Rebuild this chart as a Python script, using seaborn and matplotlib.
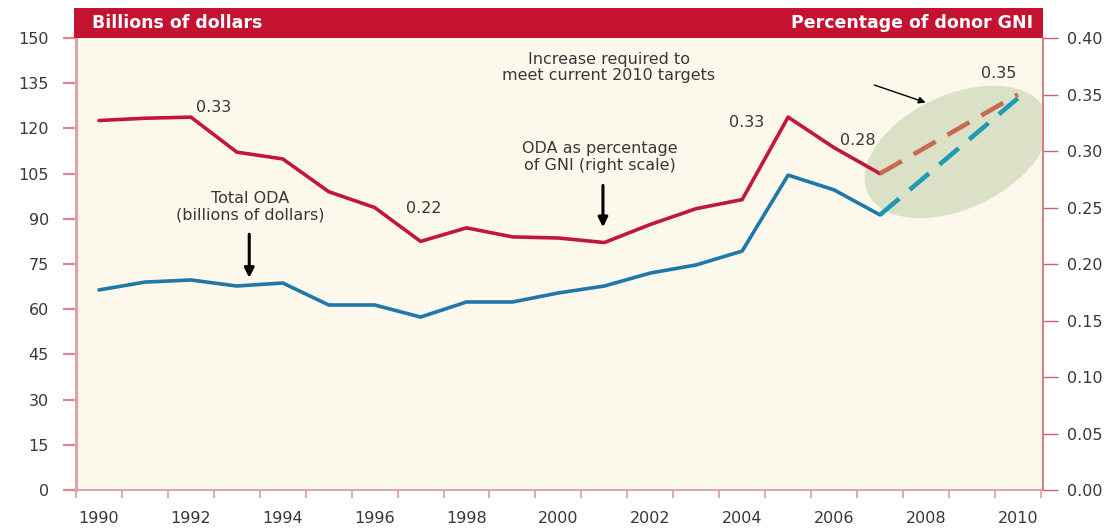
import numpy as np
import matplotlib
matplotlib.use("Agg")
import matplotlib.pyplot as plt
import seaborn as sns
from matplotlib.patches import Ellipse, Rectangle
from matplotlib.transforms import ScaledTranslation
from matplotlib.ticker import FixedLocator, MultipleLocator, FormatStrFormatter, NullFormatter

# ---- data -------------------------------------------------------------
years = [1990, 1991, 1992, 1993, 1994, 1995, 1996, 1997, 1998,
         1999, 2000, 2001, 2002, 2003, 2004, 2005, 2006, 2007]
oda_billions = [66.4, 69.0, 69.7, 67.7, 68.7, 61.4, 61.4, 57.4, 62.4,
                62.4, 65.4, 67.7, 72.0, 74.7, 79.3, 104.5, 99.6, 91.3]
oda_pct_gni = [0.327, 0.329, 0.33, 0.299, 0.293, 0.264, 0.250, 0.22, 0.232,
               0.224, 0.223, 0.219, 0.235, 0.249, 0.257, 0.33, 0.303, 0.28]

target_years = [2007, 2010]
target_billions = [91.3, 130.0]
target_pct = [0.28, 0.35]

# values printed next to the percentage line
pct_label_years = [1992, 1997, 2005, 2007, 2010]
pct_label_values = [0.33, 0.22, 0.33, 0.28, 0.35]

left_ticks = list(range(0, 151, 15))
year_ticks = list(range(1990, 2011, 2))

# ---- style ------------------------------------------------------------
sns.set_theme(style="white")
plt.rcParams["font.family"] = ["DejaVu Sans"]

RED = "#c0173a"
BLUE = "#1f77aa"
RED_PROJ = "#c96a50"
BLUE_PROJ = "#1e9ab5"
BAND = "#c41230"
CREAM = "#fdf8ec"
PINK = "#e0a2aa"
TXT = "#383838"
FS = 11.5

fig = plt.figure(figsize=(11.2, 5.31), dpi=100)
ax = fig.add_axes([0.0679, 0.0772, 0.8634, 0.8512])
ax.set_facecolor(CREAM)
ax2 = ax.twinx()

# ---- lines ------------------------------------------------------------
sns.lineplot(x=years, y=oda_billions, ax=ax, color=BLUE, linewidth=2.6, zorder=3)
sns.lineplot(x=target_years, y=target_billions, ax=ax, color=BLUE_PROJ,
             linewidth=3.3, linestyle=(0, (5.5, 3)), zorder=3)

sns.lineplot(x=years, y=oda_pct_gni, ax=ax2, color=RED, linewidth=2.6, zorder=3)
sns.lineplot(x=target_years, y=target_pct, ax=ax2, color=RED_PROJ,
             linewidth=3.3, linestyle=(0, (5.5, 3)), zorder=3)

# highlighted projection area
ell_trans = fig.dpi_scale_trans + ScaledTranslation(2008.67, 112.2, ax.transData)
ax.add_patch(Ellipse((0, 0), 1.96, 1.14, angle=25, transform=ell_trans,
                     facecolor="#dae1c6", edgecolor="none", zorder=1))

# ---- axes -------------------------------------------------------------
ax.set_xlim(1989.5, 2010.55)
ax.set_ylim(0, 150)
ax2.set_ylim(0, 0.4)

ax.yaxis.set_major_locator(FixedLocator(left_ticks))
ax2.yaxis.set_major_locator(MultipleLocator(0.05))
ax2.yaxis.set_major_formatter(FormatStrFormatter("%.2f"))
ax.xaxis.set_major_locator(FixedLocator(year_ticks))
ax.xaxis.set_minor_locator(FixedLocator(np.arange(1989.5, 2011, 1.0)))
ax.xaxis.set_minor_formatter(NullFormatter())

ax.tick_params(axis="x", which="major", length=0, pad=15, labelsize=FS, labelcolor=TXT)
ax.tick_params(axis="x", which="minor", length=6, width=1.3, color=PINK, bottom=True)
ax.tick_params(axis="y", length=9.5, width=1.6, color="#d98790", pad=10,
               labelsize=FS, labelcolor=TXT, left=True)
ax2.tick_params(axis="y", length=10.5, width=1.0, color="#cf6070", pad=7,
                labelsize=FS, labelcolor=TXT, right=True)

ax.spines["top"].set_visible(False)
ax.spines["right"].set_visible(False)
ax.spines["left"].set_color(PINK)
ax.spines["left"].set_linewidth(2.2)
ax.spines["bottom"].set_color(PINK)
ax.spines["bottom"].set_linewidth(1.4)
for s in ("top", "left", "bottom"):
    ax2.spines[s].set_visible(False)
ax2.spines["right"].set_color("#d6707e")
ax2.spines["right"].set_linewidth(1.3)
ax.set_xlabel("")
ax.set_ylabel("")
ax2.set_ylabel("")
ax.grid(False)
ax2.grid(False)

# ---- header band ------------------------------------------------------
ax.add_patch(Rectangle((-0.002, 1.0), 1.002, 0.066, transform=ax.transAxes,
                       facecolor=BAND, edgecolor="none", clip_on=False, zorder=5))
ax.text(0.0165, 1.034, "Billions of dollars", transform=ax.transAxes, color="white",
        fontsize=12.5, fontweight="bold", ha="left", va="center", zorder=6)
ax.text(0.9897, 1.034, "Percentage of donor GNI", transform=ax.transAxes, color="white",
        fontsize=12.5, fontweight="bold", ha="right", va="center", zorder=6)

# ---- value labels on the percentage line -----------------------------
label_offsets = {1992: (23, 10), 1997: (3, 33), 2005: (-41, -5), 2007: (-22, 33), 2010: (-19, 21)}
for yr, val in zip(pct_label_years, pct_label_values):
    ax2.annotate(f"{val:.2f}", xy=(yr, val), xytext=label_offsets[yr],
                 textcoords="offset pixels", ha="center", va="center",
                 fontsize=FS, color=TXT, zorder=6)

# ---- explanatory notes ------------------------------------------------
ax.text(1993.3, 94.0, "Total ODA\n(billions of dollars)", ha="center", va="center",
        fontsize=FS, color=TXT, linespacing=1.1, zorder=6)
ax.annotate("", xy=(1993.27, 69.5), xytext=(1993.27, 85.8),
            arrowprops=dict(arrowstyle="-|>", color="black", lw=2.2, mutation_scale=14), zorder=6)

ax.text(2000.9, 110.5, "ODA as percentage\nof GNI (right scale)", ha="center", va="center",
        fontsize=FS, color=TXT, linespacing=1.1, zorder=6)
ax.annotate("", xy=(2000.97, 86.3), xytext=(2000.97, 102.0),
            arrowprops=dict(arrowstyle="-|>", color="black", lw=2.2, mutation_scale=14), zorder=6)

ax.text(2001.1, 140.1, "Increase required to\nmeet current 2010 targets", ha="center", va="center",
        fontsize=FS, color=TXT, linespacing=1.1, zorder=6)
ax.annotate("", xy=(2008.05, 128.3), xytext=(2006.82, 134.7),
            arrowprops=dict(arrowstyle="-|>", color="black", lw=1.0, mutation_scale=10), zorder=6)

fig.savefig("out.png", dpi=100, facecolor="white")
